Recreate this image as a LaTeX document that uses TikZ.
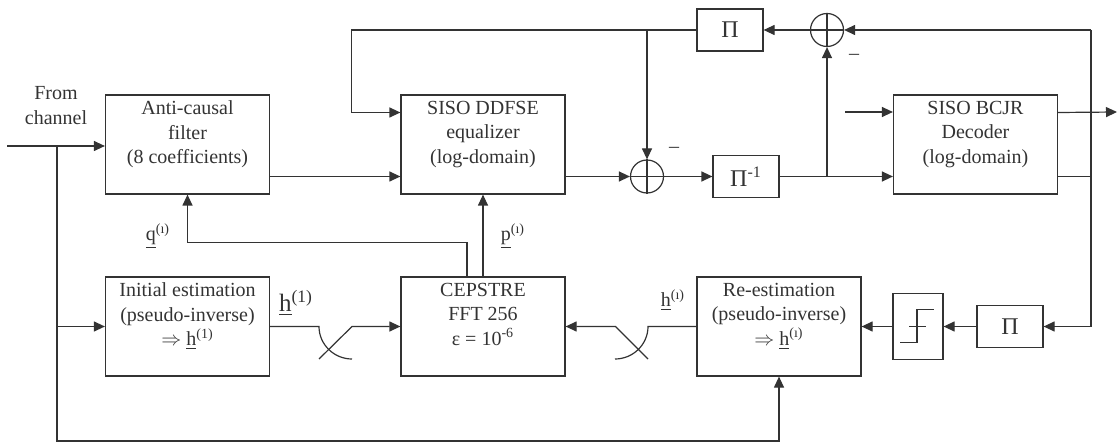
\documentclass[tikz,border=0pt]{standalone}
\usepackage{fontspec}
\setmainfont{Liberation Serif}
\usetikzlibrary{
    arrows.meta
}
\definecolor{ink}{HTML}{333333}
\tikzset{
  every path/.style={
    ink,
    line width=0.6pt
  },
  every node/.style={
    text=ink,
    font=\fontsize{10}{12.25}\selectfont
  },
  blk/.style={draw, minimum width=82pt, minimum height=49.5pt, inner sep=0pt},
  txt/.style={anchor=north, align=center, inner sep=0pt, yshift=-3pt},
  pibox/.style={draw, minimum width=33pt, minimum height=21pt, inner sep=0pt,
    font=\fontsize{12}{14}\selectfont},
  summer/.style={draw, circle, minimum size=16.5pt, inner sep=0pt}
}

\begin{document}
\begin{tikzpicture}[x=0.5pt,y=-0.5pt,>={Triangle[length=5.5pt,width=5pt]}]
    \useasboundingbox (0,0) rectangle (1118,443);

    % blocs
    \node[blk] (ac) at (187.5,144.5) {};
    \node[txt] (ac-t) at (ac.north) {Anti-causal\\filter\\(8 coefficients)};
    \node[blk] (eq) at (483,144.5) {};
    \node[txt] (eq-t) at (eq.north) {SISO DDFSE\\equalizer\\(log-domain)};
    \node[blk] (dec) at (975.5,144.5) {};
    \node[txt] (dec-t) at (dec.north) {SISO BCJR\\Decoder\\(log-domain)};
    \node[blk] (ini) at (187.5,326.5) {};
    \node[txt] (ini-t) at (ini.north)
        {Initial estimation\\(pseudo-inverse)\\$\Rightarrow$ \underline{h}\textsuperscript{(1)}};
    \node[blk] (cep) at (483,326.5) {};
    \node[txt] (cep-t) at (cep.north) {CEPSTRE\\FFT 256\\ε = 10\textsuperscript{-6}};
    \node[blk] (rest) at (779,326.5) {};
    \node[txt] (rest-t) at (rest.north)
        {Re-estimation\\(pseudo-inverse)\\$\Rightarrow$ \underline{h}\textsuperscript{(ı)}};

    % entrelaceurs, sommateurs
    \node[pibox] (pit) at (730,30) {Π};
    \node[pibox] (pii) at (746,176.5) {Π\textsuperscript{-1}};
    \node[pibox] (pil) at (1010,326.5) {Π};
    \node[summer] (st) at (827,30) {};
    \node[summer] (sl) at (647,176.5) {};
    \draw (st.north) -- (st.south) (st.west) -- (st.east);
    \draw (sl.north) -- (sl.south) (sl.west) -- (sl.east);

    % decision
    \node[draw, minimum width=25pt, minimum height=33pt, inner sep=0pt] (thr) at (918,326.5) {};
    \draw[shift={(thr.center)}] (-18,16) -- (-1,16) -- (-1,-17) -- (16,-17);
    \draw[shift={(thr.center)}] (-9,0) -- (8,0);

    % textes
    \node[align=center] (src) at (56,105.5) {From\\channel};
    \node (m1) at (854,57) {–};
    \node (m2) at (674,150) {–};
    \node (lq) at (158,236) {\underline{q}\textsuperscript{(ı)}};
    \node (lp) at (513,236) {\underline{p}\textsuperscript{(ı)}};
    \node[font=\fontsize{12.5}{14}\selectfont] (lh1) at (296,303) {\underline{h}\textsuperscript{(1)}};
    \node (lh2) at (673,300) {\underline{h}\textsuperscript{(ı)}};

    % entree
    \coordinate (in) at (7,146);
    \coordinate (br) at (57,146);
    \coordinate (bot) at (57,441);
    \draw[->] (in) -- (in -| ac.west);
    \draw[->] (br) |- (ini);
    \draw[->] (br) -- (bot) -| (rest.south);

    % chaine principale
    \draw[->] ([yshift=-16pt]ac.east) -- ([yshift=-16pt]eq.west);
    \draw[->] ([yshift=-16pt]eq.east) -- (sl);
    \draw[->] (sl) -- (pii);
    \draw[->] (pii) -- (pii -| dec.west);
    \draw[->] (pii -| st) -- (st);

    % boucle du haut
    \coordinate (rt) at (1091,30);
    \coordinate (fb) at (351.5,30);
    \draw[->] (rt) -- (st);
    \draw[->] (st) -- (pit);
    \draw[->] (pit.west) -- (fb) |- ([yshift=16pt]eq.west);
    \draw[->] (pit.west -| sl) -- (sl);

    % decodeur
    \coordinate (dn) at (845,112);
    \coordinate (out) at (1117,112);
    \draw[->] (dn) -- (dn -| dec.west);
    \draw[->] ([yshift=16pt]dec.east) -- (out);
    \draw ([yshift=-16pt]dec.east) -- ([yshift=-16pt]dec.east -| rt);
    \draw[->] (rt) |- (pil);
    \draw[->] (pil) -- (thr);
    \draw[->] (thr) -- (rest);

    % vers l'egaliseur et le filtre
    \draw[->] (cep) -- (eq);
    \draw[->] ([xshift=-8pt]cep.north) -- ++(0,-34) -| (ac.south);

    % croisements
    \draw (ini) -- (319,326.5) .. controls (319,344.5) and (334,359) .. (352,359);
    \draw[->] (319,359) -- (352,326.5) -- (cep);
    \draw (rest) -- (648,326.5) .. controls (648,344.5) and (633,359) .. (615,359);
    \draw[->] (648,359) -- (615.5,326.5) -- (cep);
\end{tikzpicture}
\end{document}
